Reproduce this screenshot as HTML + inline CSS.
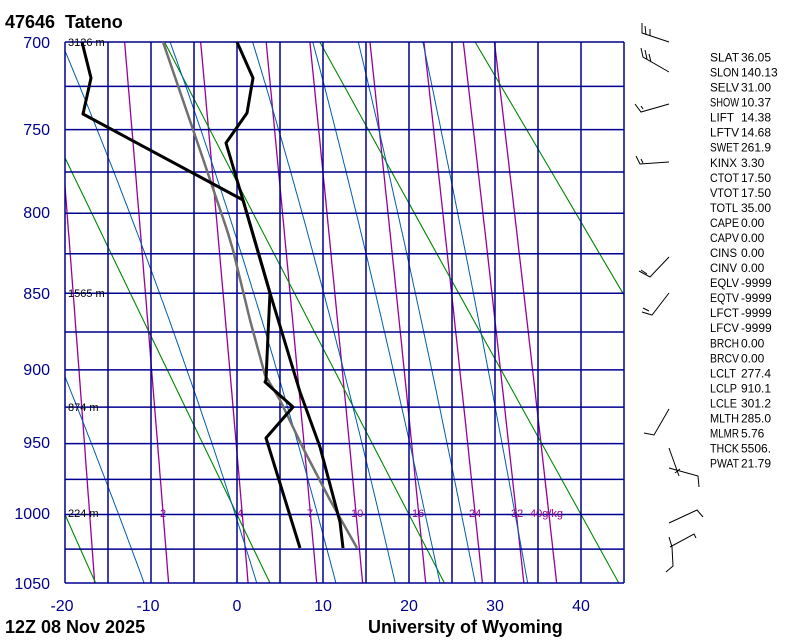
<!DOCTYPE html>
<html><head><meta charset="utf-8"><style>
html,body{margin:0;padding:0;background:#fff;}
svg{display:block;font-family:"Liberation Sans",sans-serif;}
</style></head><body>
<svg id="s" width="800" height="640" viewBox="0 0 800 640" xmlns="http://www.w3.org/2000/svg">
<defs><clipPath id="c"><rect x="65" y="42" width="559" height="541"/></clipPath></defs>
<g id="bg" clip-path="url(#c)"></g>
<g id="grid"></g>
<text x="5" y="28" font-size="18" font-weight="bold" fill="#000" style="white-space:pre" xml:space="preserve">47646  Tateno</text>
<g font-size="16" fill="#00008b" text-anchor="end">
<text x="50" y="48">700</text><text x="50" y="135">750</text><text x="50" y="218">800</text><text x="50" y="299">850</text>
<text x="50" y="375">900</text><text x="50" y="448">950</text><text x="50" y="519">1000</text><text x="50" y="589">1050</text>
</g>
<g font-size="16" fill="#00008b" text-anchor="middle">
<text x="62" y="611">-20</text><text x="148" y="611">-10</text><text x="237" y="611">0</text><text x="323" y="611">10</text>
<text x="409" y="611">20</text><text x="495" y="611">30</text><text x="581" y="611">40</text>
</g>
<text x="5" y="633" font-size="18" font-weight="bold">12Z 08 Nov 2025</text>
<text x="368" y="633" font-size="18" font-weight="bold">University of Wyoming</text>
<g font-size="11" fill="#000">
<text x="68" y="46">3126 m</text><text x="68" y="297">1565 m</text><text x="68" y="411">874 m</text><text x="68" y="517">224 m</text>
</g>
<g font-size="11" fill="#900090">
<text x="160" y="517">2</text><text x="237" y="517">4</text><text x="307" y="517">7</text><text x="351" y="517">10</text>
<text x="412" y="517">16</text><text x="469" y="517">24</text><text x="511" y="517">32</text><text x="530" y="517">40g/kg</text>
</g>
<g id="wind" stroke="#000" stroke-width="1" fill="none">
<polyline points="669,42 642,33 642,23"/><line x1="646" y1="35" x2="645" y2="26"/><line x1="650" y1="36" x2="650" y2="29"/>
<polyline points="669,72 643,57 641,48"/><line x1="647" y1="59" x2="645" y2="50"/><line x1="651" y1="62" x2="649" y2="54"/>
<polyline points="669,104 641,112 635,104"/><line x1="643" y1="109" x2="641" y2="106"/>
<polyline points="669,162 640,164 636,156"/><line x1="643" y1="163" x2="641" y2="159"/>
<polyline points="669,257 650,277 639,271"/><line x1="647" y1="274" x2="641" y2="270"/>
<polyline points="669,293 652,315 642,312"/><line x1="649" y1="311" x2="643" y2="308"/>
<polyline points="669,409 654,435 644,433"/>
<polyline points="669,448 679,476"/><polyline points="669,468 698,476 699,487"/><line x1="675" y1="473" x2="680" y2="469"/>
<polyline points="669,523 697,510 703,517"/>
<polyline points="670,547 694,534 696,538"/><polyline points="669,537 672,547 673,566 666,572"/>
</g>
<g font-size="12" fill="#000" id="tbl"></g>
<script>
(function(){
var NS="http://www.w3.org/2000/svg";
function el(p,n,a){var e=document.createElementNS(NS,n);for(var k in a)e.setAttribute(k,a[k]);p.appendChild(e);return e;}
var K=0.286,P0=Math.pow(700,K),P1=Math.pow(1050,K);
function Y(p){return 42+(Math.pow(p,K)-P0)/(P1-P0)*541;}
function X(t){return 237+8.6*t;}
var bg=document.getElementById('bg'),gr=document.getElementById('grid');
function path(g,pts,col,w){var d='';pts.forEach(function(q,i){d+=(i?'L':'M')+q[0].toFixed(1)+' '+q[1].toFixed(1);});el(g,'path',{d:d,stroke:col,'stroke-width':w,fill:'none'});}
[1,2,4,7,10,16,24,32,40].forEach(function(w){var pts=[];for(var p=700;p<=1050;p+=5){var e=w*p/(622+w);var l=Math.log(e/6.112);var t=243.5*l/(17.67-l);pts.push([X(t),Y(p)]);}path(bg,pts,'#990099',1.3);});
[-20,0,20,40,60].forEach(function(th){var pts=[];for(var p=700;p<=1050;p+=25){var t=(th+273.15)*Math.pow(p/1000,K)-273.15;pts.push([X(t),Y(p)]);}path(bg,pts,'#008800',1.1);});
function es(tc){return 6.112*Math.exp(17.67*tc/(tc+243.5));}
function dTdp(T,p){var tc=T-273.15;var e=es(tc);var rs=0.622*e/(p-e);var Lv=2.5e6;return (1/p)*(287*T+Lv*rs)/(1004+Lv*Lv*rs*0.622/(287*T*T));}
[-10.8,2.3,11.5,18.4,23.6,27.7,33.8].forEach(function(t0){var T=t0+273.15,p=1050,pts=[[X(t0),Y(p)]];while(p>700){var h=-2;var k1=dTdp(T,p),k2=dTdp(T+h/2*k1,p+h/2);T+=h*k2;p+=h;pts.push([X(T-273.15),Y(p)]);}path(bg,pts,'#005cae',1);});
for(var p=700;p<=1050;p+=25){el(gr,'line',{x1:65,x2:624,y1:Y(p),y2:Y(p),stroke:'#000090','stroke-width':1.5});}
for(var t=-20;t<=45;t+=5){el(gr,'line',{x1:X(t),x2:X(t),y1:42,y2:583,stroke:'#000090','stroke-width':1.5});}
var rows=[["SLAT","36.05"],["SLON","140.13"],["SELV","31.00"],["SHOW","10.37"],["LIFT","14.38"],["LFTV","14.68"],["SWET","261.9"],["KINX","3.30"],["CTOT","17.50"],["VTOT","17.50"],["TOTL","35.00"],["CAPE","0.00"],["CAPV","0.00"],["CINS","0.00"],["CINV","0.00"],["EQLV","-9999"],["EQTV","-9999"],["LFCT","-9999"],["LFCV","-9999"],["BRCH","0.00"],["BRCV","0.00"],["LCLT","277.4"],["LCLP","910.1"],["LCLE","301.2"],["MLTH","285.0"],["MLMR","5.76"],["THCK","5506."],["PWAT","21.79"]];
var tb=document.getElementById('tbl');rows.forEach(function(r,i){var y=(61.5+i*15.04).toFixed(1);
var lw={LIFT:24,KINX:27,CINS:27,CINV:27,LCLT:26,LCLP:27,LCLE:27,TOTL:28}[r[0]]||29;
var lab=el(tb,'text',{x:710,y:y,textLength:lw,lengthAdjust:'spacingAndGlyphs'});lab.textContent=r[0];el(tb,'text',{x:741,y:y}).textContent=r[1];});
})();
</script>
<g clip-path="url(#c)" fill="none" stroke-linejoin="round">
<polyline points="163,42 200,150 227,230 233,250 250,320 265,375 280,400 303,448 330,500 357,548" stroke="#707070" stroke-width="2.5"/>
<polyline points="237,42 253,78 247,113 226,143 237,180 243,200 270,293 297,382 300,392 320,447 340,522 343,548" stroke="#000" stroke-width="3"/>
<polyline points="82,42 91,78 83,114 243,200 270,293 268,335 266,380 265,382 293,407 266,438 300,548" stroke="#000" stroke-width="3"/>
</g>
</svg>
</body></html>
